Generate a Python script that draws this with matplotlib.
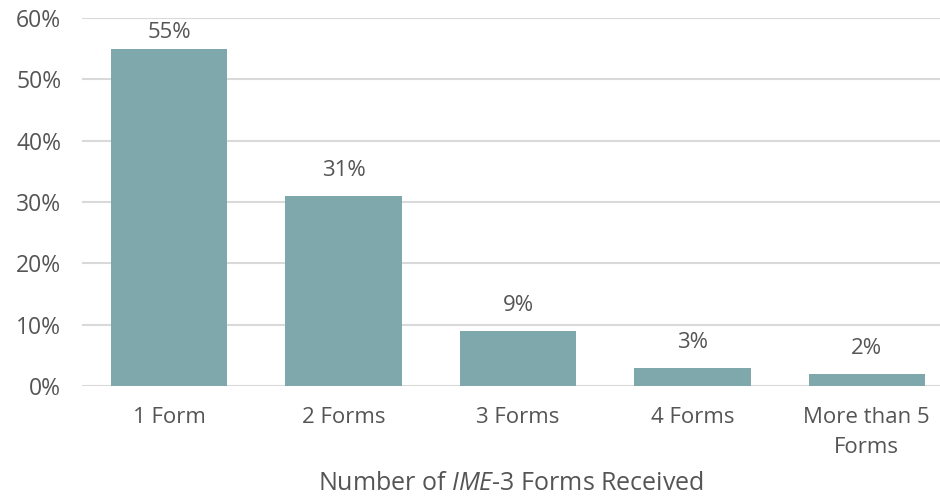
import matplotlib
matplotlib.use("Agg")
import matplotlib.pyplot as plt
from matplotlib.ticker import FuncFormatter

categories = ["1 Form", "2 Forms", "3 Forms", "4 Forms", "More than 5\nForms"]
values = [55, 31, 9, 3, 2]
yticks = [0, 10, 20, 30, 40, 50, 60]

plt.rcParams['font.family'] = ['Open Sans', 'DejaVu Sans']
plt.rcParams['mathtext.fontset'] = 'custom'
plt.rcParams['mathtext.rm'] = 'Open Sans'
plt.rcParams['mathtext.it'] = 'Open Sans:italic'

text_color = "#555555"
bar_color = "#7fa8ad"
grid_color = "#d9d9d9"

fig = plt.figure(figsize=(9.4, 4.96), dpi=100)
ax = fig.add_axes([0.0872, 0.2218, 1 - 0.0872, 0.9637 - 0.2218])

x = list(range(len(categories)))
bars = ax.bar(x, values, width=0.667, color=bar_color, zorder=3)
ymax = 60
for xi, v in zip(x, values):
    # labels sit above bars; near the top they are squeezed down to stay inside
    off = 10.5 if v < ymax * 0.85 else 4
    ax.annotate(f"{v}%", (xi, v), xytext=(0, off), textcoords="offset points",
                ha="center", va="bottom", fontsize=16, color=text_color)

ax.set_xlim(-0.5, 4.42)
ax.set_ylim(0, ymax)
ax.set_yticks(yticks)
ax.yaxis.set_major_formatter(FuncFormatter(lambda v, p: f"{int(v)}%"))
ax.set_xticks(x)
ax.set_xticklabels(categories, fontsize=16, color=text_color, linespacing=1.55)
ax.tick_params(axis="y", labelsize=16.5, labelcolor=text_color, length=0, pad=15)
ax.tick_params(axis="x", length=0, pad=15)
ax.grid(axis="y", color=grid_color, linewidth=1.5, zorder=0)
for s in ax.spines.values():
    s.set_visible(False)

ax.set_xlabel("Number of $\\mathit{IME}$-$\\mathit{3}$ Forms Received",
              fontsize=18, color=text_color, labelpad=9.5)

fig.savefig("out.png", dpi=100)
